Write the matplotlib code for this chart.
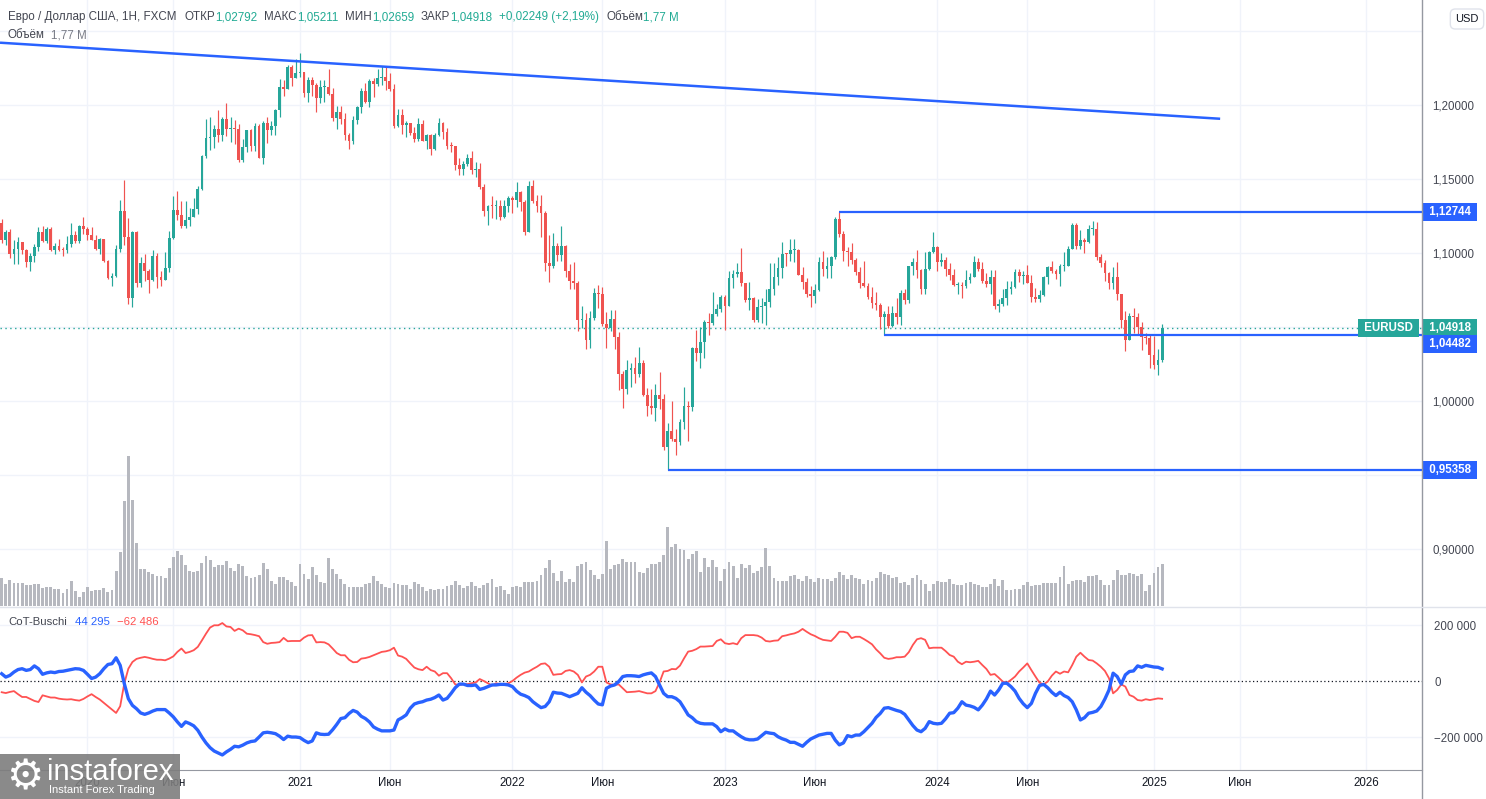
import matplotlib
matplotlib.use("Agg")
import matplotlib.pyplot as plt
from matplotlib.lines import Line2D
from matplotlib.patches import Rectangle
import numpy as np
import pandas as pd

plt.rcParams["font.family"] = ["Liberation Sans", "DejaVu Sans"]

# ---------------- data (weekly EUR/USD, FXCM) ----------------
first_week = "2019-08-12"
first_open = 1.1200

closes = [
    # 2019
    1.1090, 1.1143, 1.0990, 1.1027, 1.1073, 1.1017, 1.0940, 1.0978, 1.1040, 1.1143, 1.1080,
    1.1165, 1.1018, 1.1050, 1.1020, 1.1017, 1.1060, 1.1121, 1.1080, 1.1180, 1.1160,
    # 2020
    1.1120, 1.1090, 1.1025, 1.1093, 1.0945, 1.0830, 1.0845, 1.1025, 1.1285, 1.1105, 1.0695,
    1.1140, 1.0800, 1.0935, 1.0875, 1.0820, 1.0980, 1.0840, 1.0820, 1.0900, 1.1100, 1.1290,
    1.1255, 1.1180, 1.1220, 1.1245, 1.1300, 1.1430, 1.1655, 1.1780, 1.1785, 1.1840, 1.1795,
    1.1905, 1.1840, 1.1845, 1.1840, 1.1630, 1.1715, 1.1830, 1.1720, 1.1860, 1.1645, 1.1875,
    1.1833, 1.1860, 1.1965, 1.2120, 1.2110, 1.2255, 1.2185, 1.2215,
    # 2021
    1.2220, 1.2080, 1.2170, 1.2135, 1.2045, 1.2120, 1.2120, 1.2075, 1.1915, 1.1950, 1.1905,
    1.1795, 1.1760, 1.1900, 1.1985, 1.2095, 1.2020, 1.2165, 1.2145, 1.2180, 1.2190, 1.2165,
    1.2105, 1.1860, 1.1935, 1.1865, 1.1875, 1.1810, 1.1770, 1.1870, 1.1760, 1.1795, 1.1700,
    1.1795, 1.1880, 1.1815, 1.1725, 1.1720, 1.1595, 1.1570, 1.1600, 1.1645, 1.1560, 1.1570,
    1.1445, 1.1285, 1.1320, 1.1315, 1.1315, 1.1240, 1.1320, 1.1370,
    # 2022
    1.1360, 1.1410, 1.1345, 1.1145, 1.1450, 1.1350, 1.1320, 1.1270, 1.0930, 1.0910, 1.1050,
    1.0985, 1.1045, 1.0875, 1.0810, 1.0795, 1.0545, 1.0550, 1.0410, 1.0560, 1.0730, 1.0720,
    1.0520, 1.0495, 1.0555, 1.0430, 1.0185, 1.0080, 1.0210, 1.0220, 1.0180, 1.0260, 1.0040,
    0.9965, 0.9955, 1.0040, 1.0015, 0.9690, 0.9800, 0.9740, 0.9720, 0.9860, 0.9965, 0.9960,
    1.0355, 1.0325, 1.0400, 1.0535, 1.0530, 1.0585, 1.0620, 1.0705,
    # 2023
    1.0645, 1.0830, 1.0855, 1.0870, 1.0795, 1.0680, 1.0695, 1.0545, 1.0635, 1.0640, 1.0670,
    1.0760, 1.0840, 1.0900, 1.0995, 1.0990, 1.1020, 1.1020, 1.0850, 1.0805, 1.0720, 1.0710,
    1.0750, 1.0940, 1.0895, 1.0910, 1.0970, 1.1230, 1.1125, 1.1015, 1.1005, 1.0950, 1.0870,
    1.0795, 1.0775, 1.0700, 1.0660, 1.0650, 1.0570, 1.0590, 1.0510, 1.0595, 1.0565, 1.0730,
    1.0685, 1.0915, 1.0940, 1.0885, 1.0760, 1.0895, 1.1010, 1.1040,
    # 2024
    1.0940, 1.0950, 1.0895, 1.0850, 1.0785, 1.0785, 1.0775, 1.0820, 1.0840, 1.0940, 1.0890,
    1.0810, 1.0790, 1.0840, 1.0640, 1.0655, 1.0695, 1.0760, 1.0770, 1.0870, 1.0845, 1.0850,
    1.0800, 1.0705, 1.0690, 1.0715, 1.0840, 1.0905, 1.0880, 1.0855, 1.0910, 1.0915, 1.1030,
    1.1190, 1.1050, 1.1085, 1.1075, 1.1165, 1.1165, 1.0975, 1.0935, 1.0865, 1.0795, 1.0835,
    1.0720, 1.0545, 1.0415, 1.0575, 1.0570, 1.0500, 1.0430, 1.0425, 1.0310,
    # 2025
    1.0245, 1.0279, 1.04918,
]

highs = [
    1.1230, 1.1153, 1.1165, 1.1085, 1.1110, 1.1075, 1.1025, 1.1000, 1.1063, 1.1179, 1.1180,
    1.1175, 1.1176, 1.1069, 1.1097, 1.1040, 1.1116, 1.1200, 1.1146, 1.1188, 1.1240,
    1.1175, 1.1173, 1.1119, 1.1098, 1.1095, 1.0955, 1.0865, 1.1053, 1.1357, 1.1495, 1.1236,
    1.1147, 1.1147, 1.0970, 1.0990, 1.0890, 1.1019, 1.1000, 1.0876, 1.1008, 1.1147, 1.1384,
    1.1422, 1.1349, 1.1349, 1.1302, 1.1372, 1.1452, 1.1659, 1.1908, 1.1916, 1.1866, 1.1966,
    1.1921, 1.2011, 1.1917, 1.1901, 1.1873, 1.1771, 1.1830, 1.1835, 1.1881, 1.1870, 1.1891,
    1.1920, 1.1894, 1.1970, 1.2177, 1.2167, 1.2273, 1.2272, 1.2310,
    1.2349, 1.2223, 1.2190, 1.2189, 1.2150, 1.2170, 1.2169, 1.2243, 1.2113, 1.1990, 1.1990,
    1.1945, 1.1810, 1.1927, 1.1995, 1.2116, 1.2150, 1.2173, 1.2183, 1.2245, 1.2265, 1.2255,
    1.2218, 1.2145, 1.1975, 1.1975, 1.1895, 1.1880, 1.1850, 1.1909, 1.1900, 1.1806, 1.1803,
    1.1810, 1.1909, 1.1887, 1.1846, 1.1753, 1.1725, 1.1641, 1.1624, 1.1669, 1.1692, 1.1616,
    1.1607, 1.1464, 1.1325, 1.1383, 1.1355, 1.1361, 1.1360, 1.1386,
    1.1385, 1.1482, 1.1420, 1.1360, 1.1484, 1.1495, 1.1395, 1.1395, 1.1285, 1.1121, 1.1137,
    1.1070, 1.1185, 1.1055, 1.0925, 1.0936, 1.0810, 1.0642, 1.0593, 1.0606, 1.0765, 1.0787,
    1.0773, 1.0601, 1.0613, 1.0615, 1.0465, 1.0200, 1.0278, 1.0255, 1.0294, 1.0368, 1.0275,
    1.0090, 1.0079, 1.0112, 1.0198, 1.0050, 0.9854, 0.9999, 0.9809, 0.9875, 1.0093, 1.0000,
    1.0365, 1.0481, 1.0497, 1.0545, 1.0594, 1.0737, 1.0658, 1.0713,
    1.0713, 1.0875, 1.0887, 1.0930, 1.1033, 1.0800, 1.0805, 1.0705, 1.0692, 1.0695, 1.0760,
    1.0930, 1.0935, 1.0973, 1.1075, 1.1000, 1.1095, 1.1092, 1.1025, 1.0904, 1.0830, 1.0780,
    1.0790, 1.0970, 1.1012, 1.0975, 1.0977, 1.1245, 1.1276, 1.1150, 1.1043, 1.1065, 1.0965,
    1.0905, 1.0945, 1.0800, 1.0770, 1.0736, 1.0660, 1.0610, 1.0640, 1.0640, 1.0695, 1.0750,
    1.0756, 1.0915, 1.0965, 1.1017, 1.0894, 1.1009, 1.1014, 1.1140,
    1.1045, 1.1000, 1.0970, 1.0933, 1.0890, 1.0806, 1.0806, 1.0888, 1.0865, 1.0981, 1.0963,
    1.0942, 1.0865, 1.0885, 1.0885, 1.0690, 1.0754, 1.0812, 1.0812, 1.0895, 1.0895, 1.0880,
    1.0916, 1.0852, 1.0761, 1.0748, 1.0845, 1.0910, 1.0948, 1.0895, 1.0925, 1.1008, 1.1047,
    1.1201, 1.1202, 1.1155, 1.1100, 1.1190, 1.1214, 1.1210, 1.0990, 1.0950, 1.0870, 1.0905,
    1.0937, 1.0725, 1.0610, 1.0597, 1.0630, 1.0595, 1.0532, 1.0458, 1.0455,
    1.0437, 1.0353, 1.05211,
]

lows = [
    1.1066, 1.1052, 1.0963, 1.0926, 1.0927, 1.0990, 1.0905, 1.0879, 1.0941, 1.1012, 1.1072,
    1.1070, 1.1015, 1.0990, 1.1014, 1.0981, 1.1003, 1.1040, 1.1066, 1.1065, 1.1125,
    1.1085, 1.1085, 1.1018, 1.0992, 1.0940, 1.0827, 1.0778, 1.0840, 1.1010, 1.1055, 1.0655,
    1.0636, 1.0768, 1.0768, 1.0813, 1.0727, 1.0811, 1.0766, 1.0775, 1.0815, 1.0870, 1.1097,
    1.1225, 1.1168, 1.1168, 1.1185, 1.1240, 1.1262, 1.1428, 1.1643, 1.1696, 1.1712, 1.1753,
    1.1755, 1.1790, 1.1752, 1.1737, 1.1612, 1.1612, 1.1685, 1.1688, 1.1690, 1.1640, 1.1603,
    1.1745, 1.1800, 1.1800, 1.1922, 1.2058, 1.2105, 1.2130, 1.2180,
    1.2192, 1.2055, 1.2022, 1.2058, 1.1952, 1.2011, 1.2022, 1.2065, 1.1893, 1.1836, 1.1874,
    1.1762, 1.1704, 1.1739, 1.1869, 1.1945, 1.2016, 1.1986, 1.2051, 1.2130, 1.2134, 1.2104,
    1.2093, 1.1847, 1.1848, 1.1807, 1.1782, 1.1795, 1.1752, 1.1760, 1.1755, 1.1705, 1.1664,
    1.1693, 1.1790, 1.1772, 1.1700, 1.1684, 1.1563, 1.1529, 1.1524, 1.1586, 1.1535, 1.1513,
    1.1432, 1.1250, 1.1186, 1.1235, 1.1227, 1.1222, 1.1235, 1.1278,
    1.1272, 1.1313, 1.1285, 1.1121, 1.1140, 1.1340, 1.1280, 1.1106, 1.0880, 1.0806, 1.0900,
    1.0945, 1.0945, 1.0837, 1.0757, 1.0760, 1.0470, 1.0490, 1.0350, 1.0355, 1.0545, 1.0627,
    1.0510, 1.0359, 1.0470, 1.0350, 1.0072, 0.9952, 1.0050, 1.0097, 1.0123, 1.0160, 1.0034,
    0.9900, 0.9910, 0.9864, 0.9945, 0.9667, 0.9536, 0.9730, 0.9632, 0.9705, 0.9808, 0.9730,
    0.9935, 1.0270, 1.0223, 1.0290, 1.0443, 1.0515, 1.0575, 1.0600,
    1.0483, 1.0640, 1.0765, 1.0835, 1.0780, 1.0669, 1.0612, 1.0533, 1.0532, 1.0525, 1.0516,
    1.0635, 1.0713, 1.0787, 1.0831, 1.0909, 1.0945, 1.0941, 1.0848, 1.0760, 1.0702, 1.0635,
    1.0663, 1.0740, 1.0845, 1.0834, 1.0833, 1.0960, 1.1110, 1.0945, 1.0913, 1.0925, 1.0850,
    1.0765, 1.0772, 1.0686, 1.0630, 1.0615, 1.0488, 1.0448, 1.0495, 1.0500, 1.0520, 1.0516,
    1.0655, 1.0660, 1.0852, 1.0828, 1.0723, 1.0723, 1.0885, 1.1000,
    1.0877, 1.0910, 1.0845, 1.0820, 1.0780, 1.0720, 1.0695, 1.0761, 1.0795, 1.0838, 1.0880,
    1.0800, 1.0770, 1.0724, 1.0623, 1.0601, 1.0640, 1.0650, 1.0725, 1.0765, 1.0805, 1.0788,
    1.0795, 1.0668, 1.0670, 1.0666, 1.0710, 1.0790, 1.0865, 1.0825, 1.0777, 1.0880, 1.0910,
    1.1025, 1.1026, 1.1026, 1.0999, 1.1068, 1.1120, 1.0950, 1.0904, 1.0810, 1.0760, 1.0760,
    1.0680, 1.0496, 1.0335, 1.0410, 1.0460, 1.0450, 1.0343, 1.0384, 1.0225,
    1.0215, 1.0178, 1.02659,
]

# weekly volume, millions
volume = [
    1.20, 0.91, 1.11, 0.96, 0.98, 0.98, 0.90, 0.90, 0.94, 0.94,
    0.75, 0.79, 0.79, 0.70, 0.70, 0.56, 0.70, 1.07, 0.65, 0.39,
    0.60, 0.82, 0.65, 0.69, 0.69, 0.75, 0.60, 0.69, 1.49, 2.26,
    4.44, 6.34, 4.49, 2.67, 1.55, 1.55, 1.45, 1.36, 1.28, 1.28,
    1.17, 1.59, 2.08, 2.33, 2.17, 1.74, 1.49, 1.45, 1.49, 1.83,
    2.12, 1.93, 1.66, 1.72, 1.74, 1.91, 1.60, 1.49, 1.79, 1.70,
    1.28, 1.17, 1.21, 1.32, 1.83, 1.58, 1.07, 0.94, 1.24, 1.24,
    1.11, 1.03, 0.86, 1.79, 1.36, 1.15, 1.66, 1.32, 1.03, 0.98,
    2.04, 1.58, 1.36, 1.15, 0.94, 0.82, 0.82, 0.82, 0.82, 0.94,
    0.98, 1.28, 1.07, 0.94, 0.82, 0.75, 0.98, 0.94, 0.90, 0.90,
    0.73, 1.03, 0.94, 0.82, 0.65, 0.73, 0.69, 0.73, 0.73, 0.86,
    0.90, 1.07, 0.90, 0.77, 0.86, 1.03, 0.86, 0.77, 0.90, 0.98,
    1.15, 0.82, 0.86, 0.69, 0.52, 0.82, 0.86, 0.82, 1.03, 1.03,
    1.03, 1.07, 1.32, 1.62, 1.95, 1.41, 1.07, 1.49, 1.03, 1.15,
    1.03, 1.70, 1.79, 1.86, 1.52, 1.31, 1.14, 1.35, 2.74, 1.56,
    1.73, 1.77, 1.98, 1.86, 1.86, 1.86, 1.43, 1.39, 1.60, 1.77,
    1.77, 1.86, 2.15, 3.33, 2.49, 2.62, 2.41, 2.36, 1.98, 2.19,
    2.32, 1.43, 2.03, 1.65, 1.94, 1.65, 1.05, 1.56, 1.86, 1.69,
    1.18, 1.77, 1.60, 1.73, 1.39, 1.48, 1.65, 2.45, 1.69, 1.18,
    1.05, 1.05, 1.05, 1.27, 1.31, 1.14, 1.05, 1.27, 1.14, 1.01,
    1.18, 1.14, 1.14, 1.05, 1.18, 1.43, 1.31, 1.14, 1.31, 1.18,
    1.14, 0.93, 1.10, 1.05, 1.18, 1.43, 1.35, 1.31, 1.18, 1.22,
    0.97, 1.01, 0.89, 1.18, 1.31, 1.10, 0.93, 0.63, 0.93, 1.05,
    1.01, 1.01, 1.14, 0.93, 0.89, 0.89, 0.97, 1.01, 0.93, 0.89,
    0.80, 0.80, 0.93, 1.14, 0.84, 1.10, 0.68, 0.68, 0.72, 0.72,
    0.89, 1.01, 0.84, 0.89, 0.89, 0.97, 0.97, 0.97, 0.97, 1.22,
    1.69, 0.93, 1.05, 1.10, 1.10, 1.01, 1.27, 1.27, 1.31, 1.10,
    0.89, 0.89, 1.10, 1.52, 1.31, 1.31, 1.39, 1.35, 1.27, 1.35,
    0.63, 0.89, 1.39, 1.65, 1.77,
]

# CoT-Buschi, thousands of contracts
cot_blue = [
    27, 15, 21, 33, 42, 45, 39, 42, 55, 45,
    25, 30, 33, 31, 35, 36, 39, 42, 45, 44,
    39, 25, 10, 15, 27, 45, 60, 63, 84, 57,
    -8, -62, -86, -98, -113, -118, -113, -106, -101, -101,
    -101, -113, -127, -145, -161, -145, -151, -159, -175, -199,
    -220, -237, -249, -256, -263, -252, -243, -232, -234, -228,
    -220, -215, -213, -199, -184, -182, -184, -187, -196, -208,
    -196, -199, -199, -201, -211, -219, -213, -184, -189, -190,
    -189, -173, -154, -133, -130, -115, -104, -110, -125, -133,
    -145, -163, -171, -177, -177, -177, -174, -138, -130, -120,
    -96, -81, -76, -73, -67, -64, -58, -49, -67, -61,
    -43, -23, -10, -10, -15, -15, -13, -29, -25, -19,
    -13, -13, -11, -11, -13, -19, -35, -46, -51, -58,
    -73, -84, -94, -90, -73, -39, -42, -43, -49, -55,
    -49, -43, -23, -39, -51, -67, -81, -84, -25, -17,
    -13, -1, 17, 20, 20, 19, 17, 23, 27, 30,
    17, -13, -43, -55, -55, -61, -73, -96, -120, -130,
    -144, -150, -152, -152, -152, -162, -180, -170, -177, -177,
    -188, -198, -206, -209, -209, -206, -194, -182, -185, -187,
    -198, -205, -210, -218, -218, -225, -232, -218, -206, -199,
    -192, -189, -186, -186, -210, -227, -220, -194, -198, -192,
    -192, -180, -165, -150, -129, -115, -96, -94, -99, -104,
    -108, -118, -138, -158, -174, -180, -168, -144, -150, -152,
    -150, -134, -114, -112, -96, -73, -85, -88, -93, -102,
    -85, -63, -35, -49, -31, -7, -7, -19, -35, -61,
    -80, -94, -79, -43, -15, -11, -23, -39, -51, -39,
    -51, -58, -73, -102, -138, -130, -114, -111, -106, -90,
    -63, -31, 29, 17, -10, 23, 35, 37, 55, 50,
    57, 54, 51, 50, 44.295,
]

cot_red = [
    -39, -42, -38, -35, -46, -56, -56, -63, -70, -74,
    -50, -54, -58, -58, -62, -64, -65, -64, -67, -69,
    -63, -54, -46, -56, -65, -77, -89, -101, -113, -89,
    -8, 45, 69, 80, 84, 87, 84, 80, 77, 77,
    75, 81, 89, 105, 117, 101, 105, 111, 123, 146,
    170, 192, 200, 200, 208, 196, 194, 180, 188, 182,
    170, 168, 165, 161, 140, 134, 137, 138, 140, 155,
    143, 144, 144, 144, 156, 164, 165, 139, 140, 139,
    132, 117, 101, 93, 93, 77, 68, 69, 81, 83,
    87, 93, 99, 105, 107, 111, 120, 92, 88, 80,
    64, 49, 43, 40, 52, 40, 35, 20, 29, 29,
    11, -11, -13, -10, -10, -7, -4, 8, 1, -7,
    -15, -7, -10, -10, -7, 1, 13, 23, 31, 35,
    44, 52, 62, 64, 52, 23, 25, 26, 37, 40,
    35, 23, -4, 17, 23, 35, 52, 52, -4, -11,
    -13, -11, -25, -39, -38, -37, -35, -39, -43, -43,
    -35, -4, 35, 37, 44, 43, 56, 82, 106, 109,
    115, 124, 124, 125, 126, 144, 150, 136, 133, 136,
    132, 154, 165, 165, 165, 163, 156, 144, 142, 145,
    146, 161, 164, 168, 171, 177, 187, 177, 168, 162,
    154, 148, 146, 144, 159, 177, 177, 173, 154, 159,
    159, 151, 142, 132, 114, 100, 84, 80, 82, 86,
    86, 88, 104, 130, 150, 154, 148, 118, 120, 120,
    120, 108, 94, 88, 70, 61, 70, 68, 70, 73,
    58, 44, 23, 26, 13, -1, -5, 5, 17, 35,
    49, 64, 40, 17, -5, -11, -1, 20, 35, 27,
    35, 32, 58, 88, 102, 88, 76, 74, 64, 52,
    37, 11, -43, -31, -11, -19, -49, -55, -67, -69,
    -64, -67, -64, -61, -62.486,
]

# drawn support / resistance levels: (start week index, price)
levels = [(205, 1.12744), (216, 1.04482), (163, 0.95358)]
trend_x = [-0.41, 298.2]
trend_y = [1.2421, 1.1907]

# ---------------- styling ----------------
W, H = 1486, 799
UP, DOWN = "#26a69a", "#ef5350"
BLUE, RED = "#2962ff", "#ff5252"
GRID = "#f0f3fa"
TXT = "#131722"
LEG = "#434651"
VOLC = "#b6b8bf"


def fx(px):
    return px / W


def fy(py):
    return 1 - py / H


closes = np.array(closes)
highs = np.array(highs)
lows = np.array(lows)
opens = np.r_[first_open, closes[:-1]]
x = np.arange(len(closes))
weeks = pd.date_range(first_week, periods=360, freq="W-MON")

X0, X1 = -0.413, 347.6

fig = plt.figure(figsize=(W / 100, H / 100), dpi=100)
fig.patch.set_facecolor("white")

ax = fig.add_axes([0, fy(606), fx(1422), 606 / H])
axv = fig.add_axes([0, fy(606), fx(1422), 606 / H], sharex=ax)
axc = fig.add_axes([0, fy(770), fx(1422), (770 - 607) / H], sharex=ax)
axv.patch.set_visible(False)
axv.axis("off")

ax.set_xlim(X0, X1)
ax.set_ylim(0.861486, 1.270946)
axv.set_ylim(0, 25.57)
axc.set_ylim(-316748, 265325)

# month ticks
tick_pos, tick_lab = [], []
for yr in range(2020, 2027):
    for mo, lab in ((1, str(yr)), (6, "Июн")):
        hit = np.where((weeks.year == yr) & (weeks.month == mo))[0]
        if len(hit) and hit[0] < X1:
            tick_pos.append(hit[0])
            tick_lab.append(lab)

for a in (ax, axc):
    for s in a.spines.values():
        s.set_visible(False)
    for p in tick_pos:
        a.axvline(p, color=GRID, lw=1, zorder=0)

for lv in [0.90, 0.95, 1.00, 1.05, 1.10, 1.15, 1.20, 1.25]:
    ax.axhline(lv, color=GRID, lw=1, zorder=0)
for lv in [200000, -200000]:
    axc.axhline(lv, color=GRID, lw=1, zorder=0)

# price axis
ax.yaxis.tick_right()
pt = [0.90, 1.00, 1.10, 1.15, 1.20]
ax.set_yticks(pt, [f"{v:.5f}".replace(".", ",") for v in pt])
ax.tick_params(axis="y", length=0, pad=7.5, labelsize=8.3, labelcolor=LEG)
ax.tick_params(axis="x", bottom=False, labelbottom=False)

axc.yaxis.tick_right()
axc.set_yticks([200000, 0, -200000], ["200 000", "0", "\u2212200 000"])
axc.tick_params(axis="y", length=0, pad=9, labelsize=8.3, labelcolor=LEG)
axc.set_xticks(tick_pos, tick_lab)
axc.tick_params(axis="x", length=0, pad=5, labelsize=8.3, labelcolor=TXT)
axc.spines["bottom"].set_visible(True)
axc.spines["bottom"].set_color("#9598a1")

# volume
axv.bar(x, volume, width=0.7, color=VOLC, linewidth=0, zorder=1)

# candles
up = closes >= opens
col = np.where(up, UP, DOWN)
ax.vlines(x, lows, highs, colors=col, lw=0.85, zorder=3)
body_lo = np.minimum(opens, closes)
body_h = np.maximum(np.abs(closes - opens), 0.0007)
ax.bar(x, body_h, bottom=body_lo, width=0.68, color=col, linewidth=0, zorder=4)

# lines
ax.plot(trend_x, trend_y, color=BLUE, lw=1.8, zorder=5, solid_capstyle="butt")
for start, price in levels:
    ax.hlines(price, start, X1, color=BLUE, lw=1.6, zorder=5)
ax.axhline(closes[-1], color=UP, lw=1, ls=(0, (1, 2.5)), zorder=2)


# badges
def badge(a, price, label, fc, dy=0, right=False):
    a.annotate(label, xy=(1.0, price),
               xycoords=("axes fraction", "data"),
               xytext=((-4.5 if right else 3.0), dy), textcoords="offset points",
               ha="right" if right else "left", va="center",
               fontsize=8.3, fontweight="bold", color="white", zorder=20,
               annotation_clip=False,
               bbox=dict(boxstyle="square,pad=0.26", fc=fc, ec="none"))


badge(ax, levels[0][1], " 1,12744 ", BLUE)
badge(ax, closes[-1], " 1,04918 ", UP)
badge(ax, closes[-1], " 1,04482 ", BLUE, dy=-11.6)
badge(ax, levels[2][1], " 0,95358 ", BLUE)
badge(ax, closes[-1], " EURUSD ", UP, right=True)

# CoT pane
axc.plot(x, np.array(cot_red) * 1000, color=RED, lw=1.3, zorder=3)
axc.plot(x, np.array(cot_blue) * 1000, color=BLUE, lw=2.4, zorder=4)
axc.axhline(0, color=TXT, lw=0.9, ls=(0, (1, 2)), zorder=2)

# separators
fig.add_artist(Line2D([fx(1422), fx(1422)], [0, 1], color="#9598a1", lw=1))
fig.add_artist(Line2D([0, 1], [fy(606.5), fy(606.5)], color="#e0e3eb", lw=1))

# legend texts
renderer = fig.canvas.get_renderer()


def text_run(parts, px, py, size=8.4):
    for s, c, gap in parts:
        t = fig.text(fx(px), fy(py), s, color=c, fontsize=size, ha="left", va="center")
        px += t.get_window_extent(renderer).width + gap


VAL = "#22ab94"
text_run([("Евро / Доллар США, 1Н, FXCM", LEG, 8),
          ("ОТКР", LEG, 0), ("1,02792", VAL, 7),
          ("МАКС", LEG, 0), ("1,05211", VAL, 7),
          ("МИН", LEG, 0), ("1,02659", VAL, 7),
          ("ЗАКР", LEG, 0), ("1,04918", VAL, 7),
          ("+0,02249 (+2,19%)", VAL, 7),
          ("Объём", LEG, 0), ("1,77 M", VAL, 0)], 8, 17)
text_run([("Объём", LEG, 6), ("1,77 M", "#787b86", 0)], 8, 35)
text_run([("CoT-Buschi", LEG, 8), ("44 295", BLUE, 7), ("\u221262 486", RED, 0)], 8, 622,
         size=8.2)

fig.text(fx(1467), fy(19), "USD", fontsize=8, color=TXT, ha="center", va="center",
         bbox=dict(boxstyle="round,pad=0.45", fc="white", ec="#e0e3eb", lw=1))

# logo (drawn over the first axis labels, as in the source screenshot)
fig.add_artist(Rectangle((0, fy(799)), fx(180), 45 / H, transform=fig.transFigure,
                         fc="#7d7d7d", ec="none", alpha=0.9, zorder=30))
fig.text(fx(25), fy(777), "\u2699", fontsize=30, color="white", ha="center", va="center",
         family="DejaVu Sans", zorder=31)
fig.text(fx(47), fy(780), "instaforex", fontsize=21, color="white", ha="left",
         va="baseline", zorder=31)
fig.text(fx(49), fy(793), "Instant Forex Trading", fontsize=8, color="white", ha="left",
         va="baseline", zorder=31)

fig.savefig("out.png", dpi=100, facecolor="white")
